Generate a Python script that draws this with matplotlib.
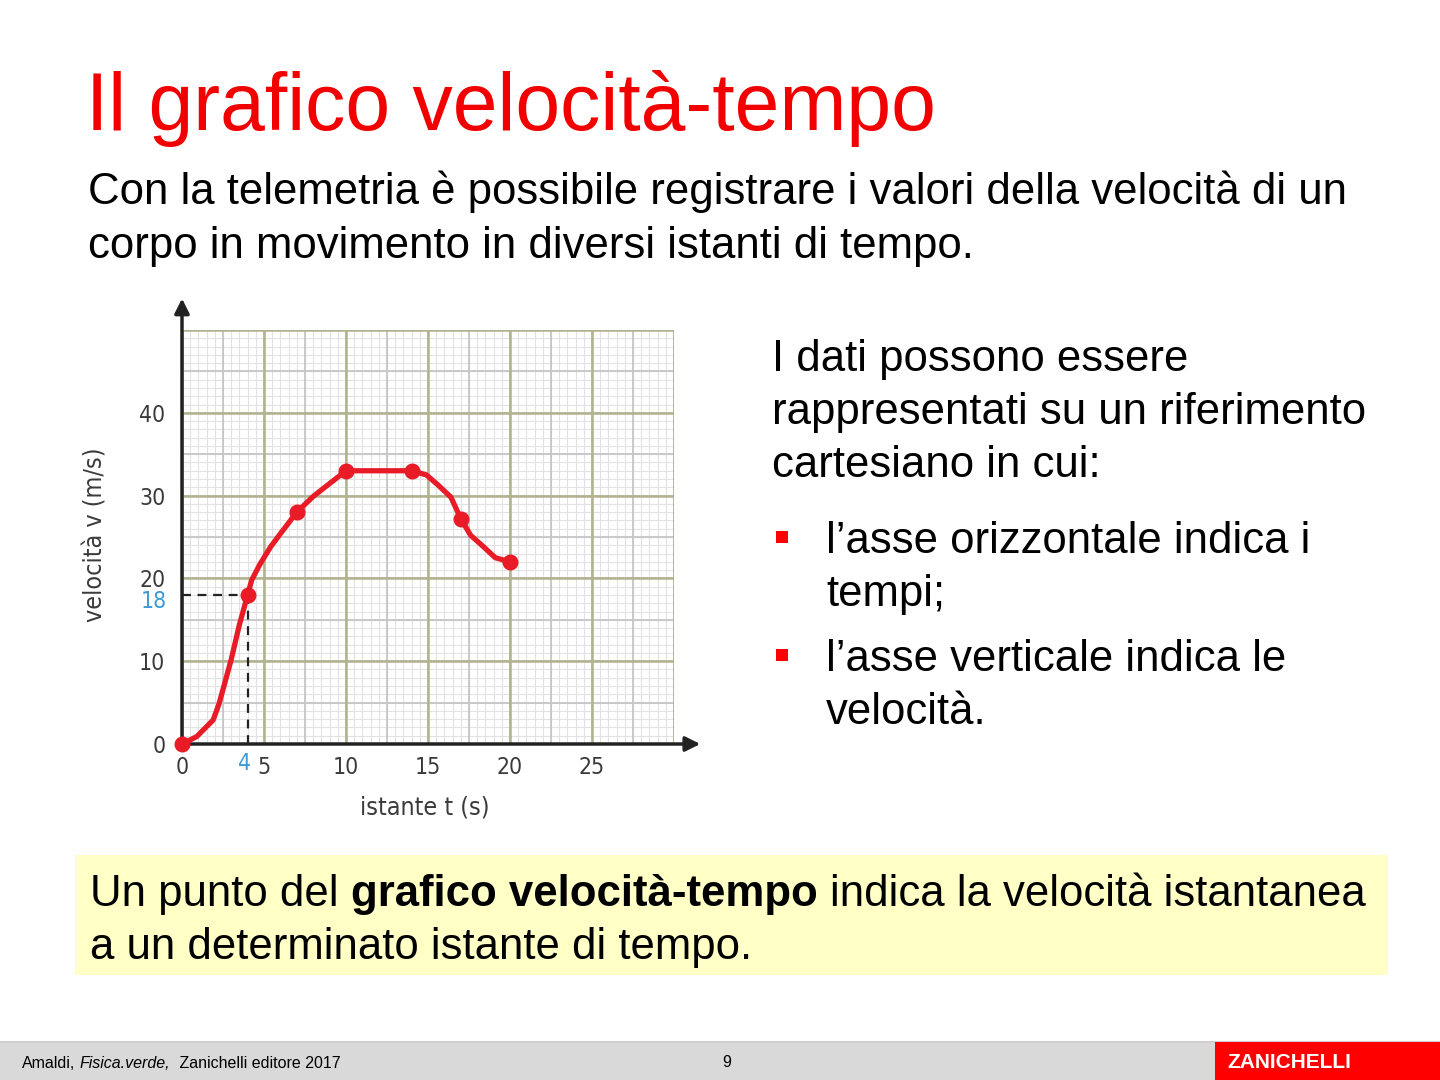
import matplotlib.pyplot as plt
import matplotlib.patches as mpatches
import numpy as np

# data
t_curve = [0, 0.9, 1.9, 2.25, 2.6, 3.0, 3.5, 4.0, 4.25, 4.75, 5.4, 6.0, 7.0, 8.0, 8.9, 10.0,
           14.0, 14.9, 15.6, 16.4, 17.0, 17.6, 18.4, 19.1, 20.0]
v_curve = [0, 0.9, 2.9, 4.8, 7.3, 10.2, 14.4, 18.0, 19.8, 21.7, 23.8, 25.4, 28.0, 29.9, 31.3, 33.0,
           33.0, 32.5, 31.3, 29.8, 27.2, 25.2, 23.8, 22.5, 22.0]
t_points = [0, 4, 7, 10, 14, 17, 20]
v_points = [0, 18, 28, 33, 33, 27.2, 22]
x_ticks = [0, 5, 10, 15, 20, 25]
y_ticks = [0, 10, 20, 30, 40]
t_mark, v_mark = 4, 18

W, H = 1440, 1080
RED = '#e81b26'
fig = plt.figure(figsize=(14.4, 10.8), dpi=100)
renderer = fig.canvas.get_renderer()


def put(x, y, s, **kw):
    return fig.text(x / W, 1 - y / H, s, **kw)


def run(x, y, parts, **common):
    # draw pieces of one line next to each other
    sp = None
    for s, kw in parts:
        opts = dict(common)
        opts.update(kw)
        t = put(x, y, s, ha='left', va='baseline', **opts)
        bb = t.get_window_extent(renderer)
        if sp is None:
            a = put(0, 0, 'a a', **opts)
            b = put(0, 0, 'aa', **opts)
            sp = a.get_window_extent(renderer).width - b.get_window_extent(renderer).width
            a.remove()
            b.remove()
        x += bb.width + sp


def rect(x0, y0, x1, y1, color, **kw):
    fig.patches.append(mpatches.Rectangle((x0 / W, 1 - y1 / H), (x1 - x0) / W, (y1 - y0) / H,
                                          transform=fig.transFigure, color=color, lw=0, **kw))


# ---- slide text
sans = 'Liberation Sans'
fs = 31.5
put(86, 130, 'Il grafico velocità-tempo', color='#f20000', fontsize=58, family=sans, va='baseline')
put(88, 204, 'Con la telemetria è possibile registrare i valori della velocità di un',
    fontsize=fs, family=sans, va='baseline')
put(88, 258, 'corpo in movimento in diversi istanti di tempo.', fontsize=fs, family=sans, va='baseline')

right_lines = [(772, 371, 'I dati possono essere'), (772, 424, 'rappresentati su un riferimento'),
               (772, 477, 'cartesiano in cui:'), (826, 553, 'l’asse orizzontale indica i'),
               (826, 606, 'tempi;'), (826, 671, 'l’asse verticale indica le'), (826, 724, 'velocità.')]
for x, y, s in right_lines:
    put(x, y, s, fontsize=fs, family=sans, va='baseline')
rect(776, 531, 788, 543, '#ff0000')
rect(776, 649, 788, 661, '#ff0000')

rect(75, 855, 1388, 975, '#ffffc6')
run(90, 906, [('Un punto del', {}), ('grafico velocità-tempo', {'weight': 'bold'}),
              ('indica la velocità istantanea', {})], fontsize=fs, family=sans)
put(90, 959, 'a un determinato istante di tempo.', fontsize=fs, family=sans, va='baseline')

# footer
rect(0, 1042, W, H, '#d9d9d9')
rect(0, 1041, W, 1043, '#cfcfcf')
run(22, 1068, [('Amaldi,', {}), ('Fisica.verde,', {'style': 'italic'}),
               (' Zanichelli editore 2017', {})], fontsize=11.5, family=sans)
put(727, 1067, '9', fontsize=11.5, family=sans, ha='center', va='baseline')
rect(1215, 1042, W, H, '#ff0000')
put(1289, 1062, 'ZANICHELLI', color='white', fontsize=15, weight='bold',
    family=sans, ha='center', va='center')

# ---- chart
ax = fig.add_axes([182 / W, 336 / H, 492 / W, 414 / H])
ax.set_xlim(0, 30)
ax.set_ylim(0, 50)
for s in ax.spines.values():
    s.set_visible(False)

for xv in np.arange(0, 30.01, 0.5):
    ax.axvline(xv, color='#e2e2e2', lw=0.8, zorder=0)
for yv in np.arange(0, 50.01, 1):
    ax.axhline(yv, color='#e2e2e2', lw=0.8, zorder=0)
for xv in np.arange(0, 30.01, 2.5):
    ax.axvline(xv, color='#c6c6c6', lw=1.3, zorder=0)
for yv in np.arange(0, 50.01, 5):
    ax.axhline(yv, color='#c6c6c6', lw=1.3, zorder=0)
for xv in np.arange(0, 30.01, 5):
    ax.axvline(xv, color='#b2b28e', lw=1.8, zorder=1)
for yv in np.arange(0, 50.01, 10):
    ax.axhline(yv, color='#b2b28e', lw=1.8, zorder=1)

arrow = dict(arrowstyle='-|>', lw=2.5, color='#222222', mutation_scale=22, shrinkA=0, shrinkB=0)
ax.annotate('', xy=(31.6, 0), xytext=(0, 0), arrowprops=arrow, annotation_clip=False, zorder=3)
ax.annotate('', xy=(0, 53.8), xytext=(0, 0), arrowprops=arrow, annotation_clip=False, zorder=3)

ax.plot([0, t_mark], [v_mark, v_mark], ls=(0, (4, 3)), color='#222222', lw=1.6, zorder=4)
ax.plot([t_mark, t_mark], [0, v_mark], ls=(0, (4, 3)), color='#222222', lw=1.6, zorder=4)

ax.plot(t_curve, v_curve, color=RED, lw=3.8, solid_capstyle='round', solid_joinstyle='round',
        zorder=5, clip_on=False)
ax.scatter(t_points, v_points, s=110, color=RED, zorder=6, clip_on=False)

tick_font = dict(family='DejaVu Sans', stretch='condensed')
ax.set_xticks(x_ticks)
ax.set_xticklabels([str(v) for v in x_ticks], fontsize=16.5, color='#3a3a3a', **tick_font)
ax.set_yticks(y_ticks)
ax.set_yticklabels([str(v) for v in y_ticks], fontsize=16.5, color='#3a3a3a', **tick_font)
ax.tick_params(length=0)
ax.tick_params(axis='x', pad=9)
ax.tick_params(axis='y', pad=12)
ax.text(t_mark - 0.2, -1.0, str(t_mark), color='#3d9ad6', fontsize=16.5, ha='center', va='top', **tick_font)
ax.text(-0.9, v_mark - 0.8, str(v_mark), color='#3d9ad6', fontsize=16.5, ha='right', va='center', **tick_font)

put(95, 535, 'velocità v (m/s)', rotation=90, fontsize=18, color='#3a3a3a', ha='center', va='center',
    **tick_font)
put(425, 808, 'istante t (s)', fontsize=18, color='#3a3a3a', ha='center', va='center', **tick_font)

fig.savefig('out.png', dpi=100)
